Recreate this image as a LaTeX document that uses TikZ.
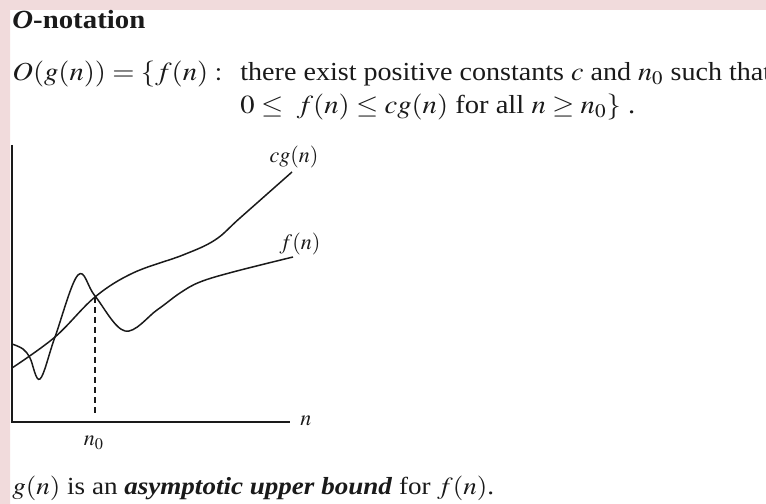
\documentclass[tikz,border=0pt]{standalone}
\usepackage{mathptmx}
\usepackage{fontspec}
\setmainfont{Liberation Serif}
\usetikzlibrary{positioning}
\definecolor{ink}{HTML}{1A1A1A}
\definecolor{band}{HTML}{F1DBDC}
\newcommand{\widetext}[1]{\scalebox{1.1}[1]{#1}}
\tikzset{line width=.75pt,
  every node/.style={font=\fontsize{11bp}{13bp}\selectfont,inner sep=0pt,text=ink},
  axis/.style={draw=ink,line width=.8pt},
  guide/.style={draw=ink,dash pattern=on 3bp off 2bp,line width=.7pt},
  curve/.style={draw=ink,line width=.75pt},
  textline/.style={anchor=base west,font=\fontsize{13bp}{15bp}\selectfont},
  label/.style={anchor=base}}

\begin{document}
\begin{tikzpicture}[x=.5bp,y=-.5bp]
\path[use as bounding box] (0,0) rectangle (766,504);
\fill[white] (0,0) rectangle (766,504);
\fill[band] (0,0) rectangle (766,10) (0,0) rectangle (10,504);
% heading and definition
\node[textline,font=\fontsize{13.1bp}{15bp}\selectfont\bfseries] (title) at (12,29) {\widetext{\textit{O}-notation}};
\node[textline] (deflhs) at (12,81) {\widetext{$O(g(n)) = \{f(n) :$}};
\node[textline] (defrhs) at (240,81) {\scalebox{1.08}[1]{there exist positive constants $c$ and $n_0$ such that}};
\node[textline] (defcond) at (240,114) {\widetext{$0 \le\ f(n) \le cg(n)$ for all $n \ge n_0\}$ .}};
% axes
\coordinate (origin) at (12,422);
\coordinate (ytop) at (12,145);
\coordinate (xend) at (290,422);
\draw[axis] (ytop) -- (origin) -- (xend);
\node[anchor=west] (nlabel) at (300,421) {$n$};
% curves
\draw[curve] plot[smooth,tension=.6] coordinates {(12,368) (55,337) (95,297) (133,273) (183,255) (215,240) (240,218) (292,172)};
\draw[curve] plot[smooth,tension=.6] coordinates {(12,344) (23,349) (30,358) (40,379) (55,337) (78,275) (95,296) (125,331) (157,310) (180,293) (200,282) (233,272) (293,257)};
\node[label] (cglabel) at (294,163) {$cg(n)$};
\node[label] (flabel) at (300,250) {$f(n)$};
% threshold
\coordinate (cross) at (95,297);
\coordinate (foot) at (95,416);
\draw[guide] (cross) -- (foot);
\node[label] (nzero) at (94,446) {$n_0$};
\node[textline,font=\fontsize{12.3bp}{14bp}\selectfont] (caption) at (12,494) {\widetext{$g(n)$ is an \textbf{\textit{asymptotic upper bound}} for $f(n)$.}};
\end{tikzpicture}
\end{document}
